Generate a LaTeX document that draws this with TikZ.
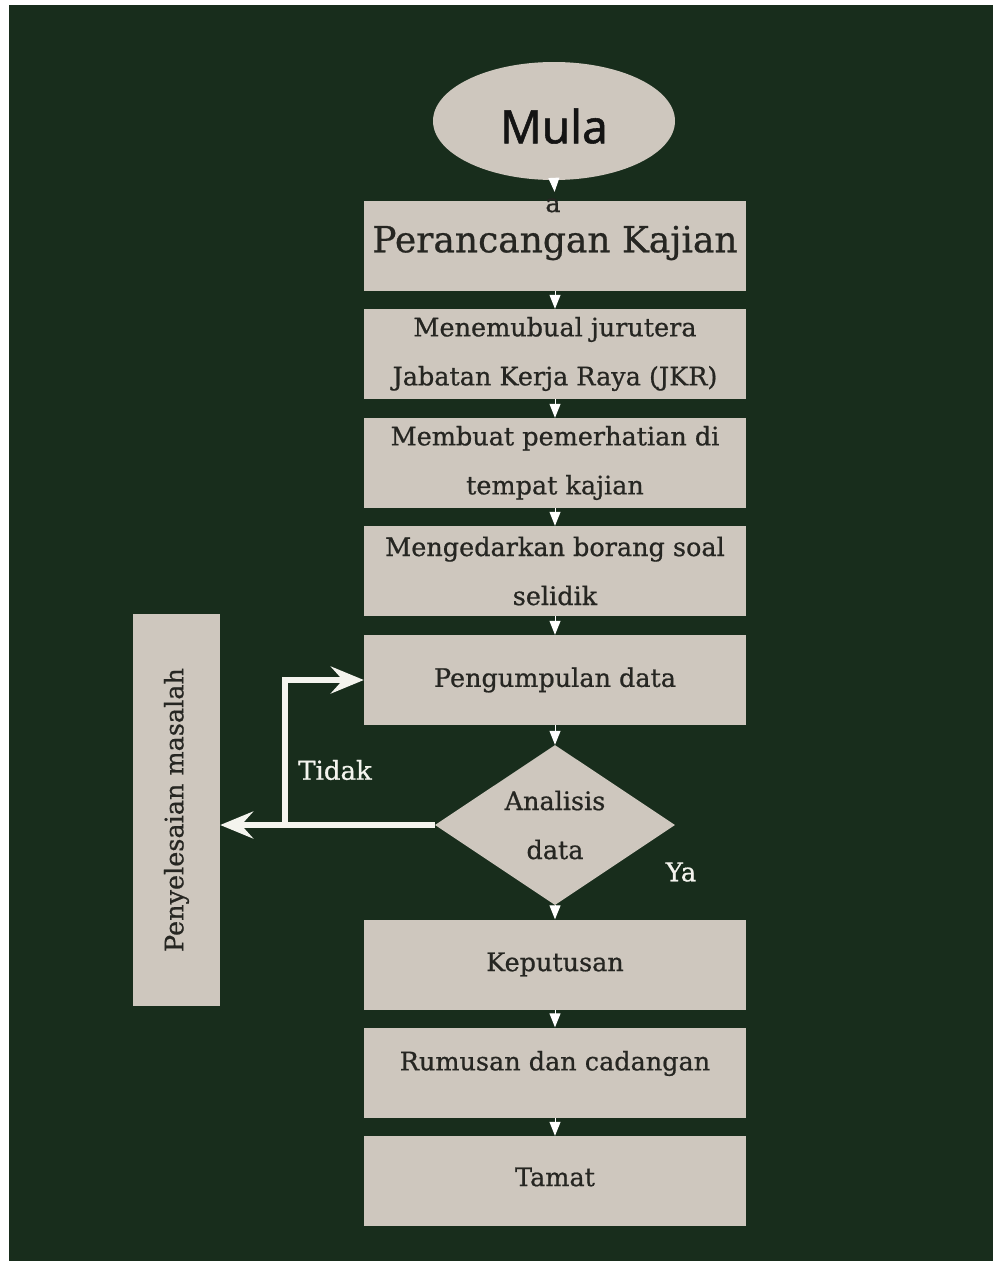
\documentclass[tikz,border=0pt]{standalone}
\usepackage{fontspec}
\setmainfont[FakeBold=0.7]{DejaVu Serif}
\newfontfamily\mulafont[FakeBold=1.2]{Noto Sans}
\usetikzlibrary{shapes.geometric,arrows.meta}
\definecolor{bg}{HTML}{182D1C}
\definecolor{boxc}{HTML}{CEC7BE}
\definecolor{txtc}{HTML}{262622}
\definecolor{wline}{HTML}{F4F4EE}
\newcommand{\shiftup}[2]{\raisebox{#1}[\height][\depth]{#2}}
\begin{document}
\begin{tikzpicture}[x=1pt,y=-1pt,
  stepbox/.style={rectangle, fill=boxc, draw=none, minimum width=382pt, minimum height=90pt,
    inner sep=0pt, text=txtc, font=\fontsize{25.5}{49}\selectfont, align=center},
  flow/.style={draw=white, line width=1pt, -{Triangle[width=11pt,length=14pt]}},
  tidak/.style={draw=wline, line width=6pt, -{Stealth[length=33pt,width=27pt,inset=12pt]}},
  lbl/.style={text=wline, inner sep=0pt, font=\fontsize{26}{30}\selectfont}]
\useasboundingbox (0,0) rectangle (993,1261);
\fill[white] (0,0) rectangle (993,1261);
\fill[bg] (9,5) rectangle (1000,1270);

% start
\node[ellipse, fill=boxc, minimum width=242pt, minimum height=118pt, inner sep=0pt,
  text=black!92, font=\mulafont\fontsize{46}{50}\selectfont] (m) at (554,121) {\shiftup{-5pt}{Mula}};

% main column
\node[stepbox] (b1) at (555,246) {\fontsize{36}{40}\selectfont\shiftup{3pt}{Perancangan Kajian}};
\node[stepbox] (b2) at (555,354) {Menemubual jurutera\\Jabatan Kerja Raya (JKR)};
\node[stepbox] (b3) at (555,463) {Membuat pemerhatian di\\tempat kajian};
\node[stepbox] (b4) at (555,571) {Mengedarkan borang soal\\selidik};
\node[stepbox] (b5) at (555,680) {Pengumpulan data};
\node[diamond, fill=boxc, minimum width=240pt, minimum height=160pt, inner sep=0pt] (d) at (555,825) {};
\node[text=txtc, align=center, inner sep=0pt, font=\fontsize{25.5}{49}\selectfont] (dt) at (d) {Analisis\\data};
\node[stepbox] (b6) at (555,964.5) {Keputusan};
\node[stepbox] (b7) at (555,1072.5) {\shiftup{9pt}{Rumusan dan cadangan}};
\node[stepbox] (b8) at (555,1181) {\shiftup{4pt}{Tamat}};

% side box
\node[stepbox, rotate=90, minimum width=392pt, minimum height=87pt] (pen) at (176.5,810) {Penyelesaian masalah};

% stray letter
\node[text=txtc, anchor=base, inner sep=0pt, font=\fontsize{25.5}{30}\selectfont] (stray) at (553,212) {a};

% connectors
\draw[flow, shorten >=9pt] (m.south) -- (b1.north);
\draw[flow] (b1.south) -- (b2.north);
\draw[flow] (b2.south) -- (b3.north);
\draw[flow] (b3.south) -- (b4.north);
\draw[flow] (b4.south) -- (b5.north);
\draw[flow] (b5.south) -- (d.north);
\draw[flow] (d.south) -- (b6.north);
\draw[flow] (b6.south) -- (b7.north);
\draw[flow] (b7.south) -- (b8.north);

\coordinate (j) at (285,825);
\draw[tidak] (d.west) -- (d.west -| pen.south);
\draw[tidak] (j) |- (b5.west);

% labels
\node[lbl] (ltidak) at (335,770) {Tidak};
\node[lbl] (lya) at (681,872) {Ya};
\end{tikzpicture}
\end{document}
